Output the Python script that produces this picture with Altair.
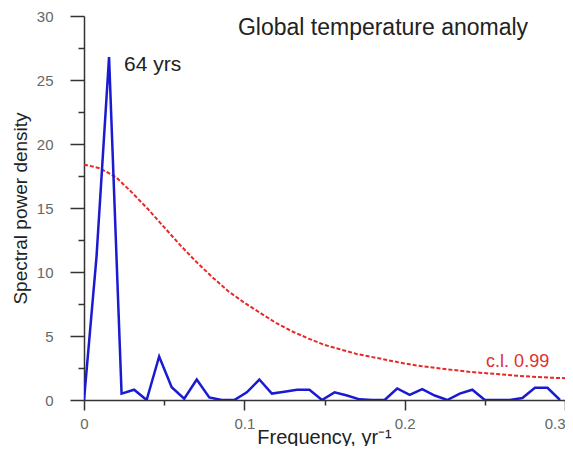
import altair as alt
import pandas as pd

# Blue spectrum: frequency index k (f = k/128 yr^-1) and spectral power density
spec_k = list(range(39))
spec_vals = [0, 11.2, 26.8, 0.5, 0.8, 0, 3.4, 1.0, 0.1, 1.6,
             0.2, 0, 0, 0.6, 1.6, 0.5, 0.65, 0.8, 0.8, 0,
             0.6, 0.35, 0.05, 0, 0, 0.9, 0.4, 0.85, 0.35, 0,
             0.5, 0.8, 0, 0, 0, 0.15, 0.95, 0.95, 0]

# Red dashed confidence level (c.l. 0.99)
cl_freq = [0.00, 0.01, 0.02, 0.03, 0.04, 0.05, 0.06, 0.07, 0.08, 0.09,
           0.10, 0.11, 0.12, 0.13, 0.14, 0.15, 0.16, 0.17, 0.18, 0.19,
           0.20, 0.21, 0.22, 0.23, 0.24, 0.25, 0.26, 0.27, 0.28, 0.29, 0.30]
cl_vals = [18.4, 18.1, 17.4, 16.2, 14.9, 13.5, 12.1, 10.8, 9.6, 8.5,
           7.6, 6.8, 6.0, 5.35, 4.8, 4.3, 3.95, 3.6, 3.35, 3.1,
           2.85, 2.65, 2.5, 2.35, 2.2, 2.1, 2.0, 1.9, 1.82, 1.75, 1.7]

x_tick_values = [0, 0.05, 0.1, 0.15, 0.2, 0.25, 0.3]
y_tick_values = [0, 2.5, 5, 7.5, 10, 12.5, 15, 17.5, 20, 22.5, 25, 27.5, 30]

spec_df = pd.DataFrame({"f": [k / 128 for k in spec_k], "v": spec_vals})
cl_df = pd.DataFrame({"f": cl_freq, "v": cl_vals})

FONT = "Liberation Sans"
AX = "#333333"

x_major = "abs(datum.value*10 - round(datum.value*10)) < 0.001"
x_axis = alt.Axis(
    values=x_tick_values,
    title="Frequency, yr\u207b\u00b9",
    titleFont=FONT, titleFontSize=20, titleFontWeight="normal", titleColor="#222222",
    titleX=240, titleY=43, titleBaseline="alphabetic",
    labelExpr=f"{x_major} ? (datum.value == 0 ? '0' : format(datum.value, '.1f')) : ''",
    labelFont=FONT, labelFontSize=15, labelColor="#666666", labelPadding=6,
    labelOverlap=False, labelBound=False, labelFlush=False,
    labelAlign={"condition": {"test": "datum.value > 0.29", "value": "right"}, "value": "center"},
    tickSize={"condition": {"test": x_major, "value": 10}, "value": 5},
    tickColor=AX, tickWidth=1.5, domainColor=AX, domainWidth=1.5, grid=False,
)
y_major = "datum.value % 5 === 0"
y_axis = alt.Axis(
    values=y_tick_values,
    title="Spectral power density",
    titleFont=FONT, titleFontSize=19, titleFontWeight="normal", titleColor="#222222",
    titleX=-64, titleY=192, titleBaseline="middle", titleAngle=-90, titleAlign="center",
    labelExpr=f"{y_major} ? datum.label : ''",
    labelFont=FONT, labelFontSize=15, labelColor="#666666", labelPadding=17,
    labelOverlap=False,
    tickSize={"condition": {"test": y_major, "value": 14}, "value": 6},
    tickColor=AX, tickWidth=1.5, domainColor=AX, domainWidth=1.5, grid=False,
)
x_scale = alt.Scale(domain=[0, 0.3], nice=False, zero=False)
y_scale = alt.Scale(domain=[0, 30], nice=False)

X = alt.X("f:Q", axis=x_axis, scale=x_scale)
Y = alt.Y("v:Q", axis=y_axis, scale=y_scale)

spec_line = alt.Chart(spec_df).mark_line(color="#1a1ad0", strokeWidth=2.5, clip=True).encode(x=X, y=Y)
cl_line = alt.Chart(cl_df).mark_line(color="#e62828", strokeWidth=2, strokeDash=[4, 2]).encode(x=X, y=Y)

def label(text, f, v, size, color, align):
    d = pd.DataFrame({"f": [f], "v": [v], "t": [text]})
    return alt.Chart(d).mark_text(
        font=FONT, fontSize=size, color=color, align=align, baseline="alphabetic"
    ).encode(x=X, y=Y, text="t:N")

title_txt = label("Global temperature anomaly", 0.1865, 28.5, 23, "#222222", "center")
peak_txt = label("64 yrs", 0.025, 25.7, 21, "#222222", "left")
cl_txt = label("c.l. 0.99", 0.2508, 2.58, 18, "#e03030", "left")

chart = alt.layer(cl_line, spec_line, title_txt, peak_txt, cl_txt).properties(
    width=481, height=384,
    autosize=alt.AutoSizeParams(type="none"),
    padding={"left": 76, "top": 8, "right": 0, "bottom": 46},
    background="white",
).configure_view(stroke=None)

chart.save("out.html", embed_options={"renderer": "svg", "actions": False})
